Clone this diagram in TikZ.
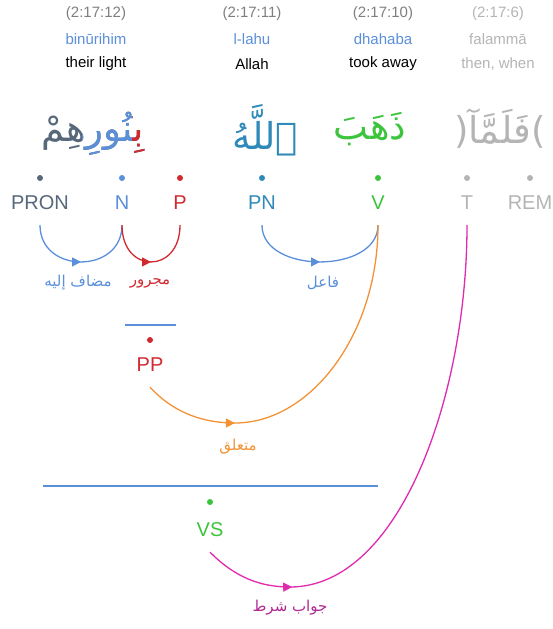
\documentclass[tikz,border=0pt]{standalone}
\usepackage{fontspec}
\setmainfont{Liberation Sans}
\newfontfamily\arabicfont[Script=Arabic]{DejaVu Sans}
\TeXXeTstate=1
\usetikzlibrary{arrows.meta,decorations.markings,calc}
\definecolor{proncol}{HTML}{56687A}
\definecolor{ncol}{HTML}{5B8FD9}
\definecolor{pcol}{HTML}{D02A30}
\definecolor{pncol}{HTML}{2E8AB8}
\definecolor{vcol}{HTML}{3CC43C}
\definecolor{remcol}{HTML}{B4B4B4}
\definecolor{refcol}{HTML}{7F7F7F}
\definecolor{orangecol}{HTML}{F39234}
\definecolor{magcol}{HTML}{E02AB0}
\definecolor{jawabcol}{HTML}{B02A92}
\newcommand\nurword{\beginR بِنُورِهِمْ\endR}
\begin{document}
\begin{tikzpicture}[x=1pt,y=-1pt,
    small/.style={font=\fontsize{15}{17}\selectfont, inner sep=0pt},
    word/.style={font=\arabicfont\fontsize{37}{42}\selectfont, inner sep=0pt},
    tag/.style={font=\fontsize{20}{22}\selectfont, inner sep=0pt, minimum height=44pt},
    dot/.style={circle, fill, inner sep=0pt, minimum size=6pt},
    rel/.style={font=\arabicfont\fontsize{15}{18}\selectfont, inner sep=0pt},
    linkarc/.style={line width=1.3pt, postaction={decorate},
        decoration={markings, mark=at position #1 with {\arrow{Triangle[length=9pt,width=9pt]}}}},
    linkarc/.default=0.5,
    bar/.style={line width=1.3pt, ncol}]
    \useasboundingbox (0,0) rectangle (553,629);

    \node[small, text=refcol] (ref12) at (96,14) {(2:17:12)};
    \node[small, text=refcol] (ref11) at (252,14) {(2:17:11)};
    \node[small, text=refcol] (ref10) at (383,14) {(2:17:10)};
    \node[small, text=remcol] (ref6) at (498,14) {(2:17:6)};
    \node[small, text=ncol] (tr12) at (96,39) {binūrihim};
    \node[small, text=ncol] (tr11) at (252,39) {l-lahu};
    \node[small, text=ncol] (tr10) at (383,39) {dhahaba};
    \node[small, text=remcol] (tr6) at (498,39) {falammā};
    \node[small] (gl12) at (96,64) {their light};
    \node[small] (gl11) at (252,64) {Allah};
    \node[small] (gl10) at (383,64) {took away};
    \node[small, text=remcol] (gl6) at (498,64) {then, when};

    \node[word, text=proncol] (w12) at (93,134) {\nurword};
    \begin{scope}
        \clip ($(w12.south west)!0.40!(w12.south east)+(0,10)$) rectangle ($(w12.north west)!0.885!(w12.north east)+(0,-10)$);
        \node[word, text=ncol] (w12n) at (w12) {\nurword};
    \end{scope}
    \begin{scope}
        \clip ($(w12.south west)!0.885!(w12.south east)+(0,10)$) rectangle ($(w12.north east)+(5,-10)$);
        \node[word, text=pcol] (w12p) at (w12) {\nurword};
    \end{scope}
    \node[word, text=pncol] (w11) at (265,130) {\beginR ٱللَّهُ\endR};
    \node[word, text=vcol] (w10) at (370,129) {\beginR ذَهَبَ\endR};
    \node[word, text=remcol] (w6) at (500,129) {(\beginR فَلَمَّآ\endR)};

    \node[dot, proncol] (dpron) at (40,178) {};
    \node[dot, ncol] (dn) at (122,178) {};
    \node[dot, pcol] (dp) at (180,178) {};
    \node[dot, pncol] (dpn) at (262,178) {};
    \node[dot, vcol] (dv) at (378,178) {};
    \node[dot, remcol] (dt) at (467,178) {};
    \node[dot, remcol] (drem) at (530,178) {};

    \node[tag, text=proncol] (PRON) at (40,203) {PRON};
    \node[tag, text=ncol] (N) at (122,203) {N};
    \node[tag, text=pcol] (P) at (180,203) {P};
    \node[tag, text=pncol] (PN) at (262,203) {PN};
    \node[tag, text=vcol] (V) at (378,203) {V};
    \node[tag, text=remcol] (T) at (467,203) {T};
    \node[tag, text=remcol] (REM) at (530,203) {REM};

    \draw[linkarc, ncol] (PRON.south) .. controls +(0,49) and +(0,49) .. (N.south);
    \draw[linkarc, pcol] (N.south) .. controls +(0,49) and +(0,49) .. (P.south);
    \draw[linkarc, ncol] (PN.south) .. controls +(0,49) and +(0,49) .. (V.south);
    \node[rel, text=ncol] (mudaf) at (78,283) {\beginR مضاف إليه\endR};
    \node[rel, text=pcol] (majrur) at (150,283) {\beginR مجرور\endR};
    \node[rel, text=ncol] (fail) at (323,283) {\beginR فاعل\endR};

    \draw[bar] (125,325) -- (176,325);
    \node[dot, pcol] (dpp) at (150,340) {};
    \node[tag, text=pcol] (PP) at (150,365) {PP};
    \draw[linkarc=95pt, orangecol] (PP.south) .. controls +(25,27) and (205,423) .. (235,423)
        .. controls (310,423) and +(0,110) .. (V.south);
    \node[rel, text=orangecol] (mutaalliq) at (238,447) {\beginR متعلق\endR};

    \draw[bar] (43,486) -- (378,486);
    \node[dot, vcol] (dvs) at (210,502) {};
    \node[tag, text=vcol] (VS) at (210,530) {VS};
    \draw[linkarc=92pt, magcol] (VS.south) .. controls +(25,25) and (260,587) .. (290,587)
        .. controls (400,587) and +(0,170) .. (T.south);
    \node[rel, text=jawabcol] (jawab) at (290,608) {\beginR جواب شرط\endR};
\end{tikzpicture}
\end{document}
